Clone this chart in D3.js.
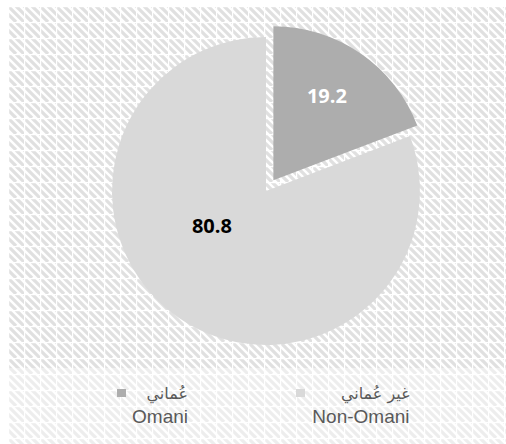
<!DOCTYPE html>
<html><head><meta charset="utf-8">
<script src="https://cdn.jsdelivr.net/npm/d3@7/dist/d3.min.js"></script>
<style>html,body{margin:0;padding:0;background:#fff;}svg{display:block;}</style>
</head><body>
<script>
const categories = ["Omani", "Non-Omani"];
const categoriesAr = ["عُماني", "غير عُماني"];
const values = [19.2, 80.8];
const colors = ["#adadad", "#d9d9d9"];

const W = 506, H = 444;
const svg = d3.select("body").append("svg").attr("width", W).attr("height", H);
const defs = svg.append("defs");

function makePattern(id, col) {
  const p = defs.append("pattern").attr("id", id).attr("patternUnits", "userSpaceOnUse")
    .attr("width", 16).attr("height", 16).attr("x", 8).attr("y", 6);
  p.append("rect").attr("width", 16).attr("height", 16).attr("fill", "#fff");
  [-16, -8, 0, 8, 16].forEach(o => {
    p.append("line").attr("x1", o).attr("y1", 0).attr("x2", o + 16).attr("y2", 16)
      .attr("stroke", col).attr("stroke-width", 3.2);
  });
  p.append("rect").attr("x", 0).attr("y", 0).attr("width", 16).attr("height", 1.2).attr("fill", "#fff");
  p.append("rect").attr("x", 0).attr("y", 0).attr("width", 1.2).attr("height", 16).attr("fill", "#fff");
}
makePattern("hatchA", "#e0e0e0");
makePattern("hatchB", "#ededed");

svg.append("rect").attr("x", 8).attr("y", 6).attr("width", W - 8).attr("height", 362).attr("fill", "url(#hatchA)");
svg.append("rect").attr("x", 8).attr("y", 368).attr("width", W - 8).attr("height", H - 368).attr("fill", "url(#hatchB)");

const cx = 266, cy = 191, r = 154, explode = 13;
const pie = d3.pie().sort(null).value(d => d);
const arcs = pie(values);
const arc = d3.arc().innerRadius(0).outerRadius(r);

const g = svg.append("g").attr("transform", `translate(${cx},${cy})`);
arcs.forEach((a, i) => {
  const mid = (a.startAngle + a.endAngle) / 2;
  const off = i === 0 ? explode : 0;
  g.append("path").attr("d", arc(a)).attr("fill", colors[i])
    .attr("transform", `translate(${off * Math.sin(mid)},${-off * Math.cos(mid)})`);
});

// data labels
const labelPos = [{ang: 32.6 * Math.PI / 180, f: 0.65}, {ang: 237.8 * Math.PI / 180, f: 0.415}];
const labelColors = ["#ffffff", "#000000"];
arcs.forEach((a, i) => {
  const ang = labelPos[i].ang;
  const off = i === 0 ? explode : 0;
  const rr = labelPos[i].f * r + off;
  g.append("text").attr("x", rr * Math.sin(ang)).attr("y", -rr * Math.cos(ang))
    .attr("text-anchor", "middle").attr("dominant-baseline", "central")
    .attr("font-family", "'Open Sans', sans-serif").attr("font-weight", "bold")
    .attr("font-size", 20).attr("fill", labelColors[i])
    .text(values[i].toFixed(1));
});

// legend
const legX = d3.scalePoint().domain(categories).range([117, 296]);
const legEnd = d3.scalePoint().domain(categories).range([188, 409.5]);
categories.forEach((c, i) => {
  svg.append("rect").attr("x", legX(c)).attr("y", 389).attr("width", 9).attr("height", 8).attr("fill", colors[i]);
  svg.append("text").attr("x", legEnd(c)).attr("y", 399).attr("text-anchor", "end")
    .attr("font-family", "'DejaVu Serif', 'DejaVu Sans', serif").attr("font-size", 16).attr("fill", "#595959")
    .text(categoriesAr[i]);
  svg.append("text").attr("x", legEnd(c)).attr("y", 423).attr("text-anchor", "end")
    .attr("font-family", "'Liberation Sans', Arial, sans-serif").attr("font-size", 19).attr("fill", "#595959")
    .text(c);
});
</script>
</body></html>
